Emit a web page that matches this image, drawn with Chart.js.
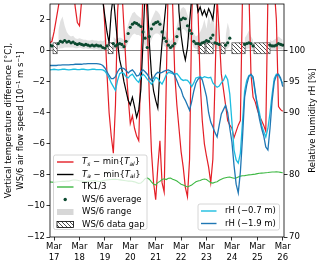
<!DOCTYPE html>
<html><head><meta charset="utf-8">
<script src="https://cdn.jsdelivr.net/npm/chart.js@4"></script>
<style>html,body{margin:0;padding:0;background:#fff}canvas{display:block}</style>
</head><body>
<canvas id="c" width="320" height="261"></canvas>
<script>
// ---- data (2-hourly samples starting at Mar 16 20:00) ----
const startDay = 16.8333;
const stepDay = 1/12;
const dayTicks = [17,18,19,20,21,22,23,24,25,26];
const leftTicks = [-12,-10,-8,-6,-4,-2,0,2];
const rightTicks = [70,80,90,95,100];

const tsMinTal = [0.5,0.6,1.2,2.0,2.8,3.6,5,6,6,5.5,5,4,2.8,1.8,1.6,3.2,5,
 6,7,7,7,6.5,6,5.5,5,
 3.8,1.5,-1.5,-4,-5.5,-6.6,-3.5,2.5,4.5,
 4,1.5,-1,-3,-4.7,-4.2,-5,-5.5,-5.8,
 -1,4,4.5,2,-3,-6.5,-8.5,-9.6,-7.5,-5.8,-8.5,-9.1,
 -2,5,7,3,-1.5,-3.5,-5,-6.5,-7.5,-8.8,-9.4,-7,
 2,6,6,2.5,-2,-4.5,-6,-6.8,-7.5,-8.5,-7,-2,
 3.5,1,-1.5,-2.5,-3.5,-4.5,-4.8,-5,-5.6,-5.2,-4.8,-4.5,
 3.5,6,6,4,-1.5,-3,-3.3,-3.8,-4.2,-4.5,-4.8,-5.2,
 3.5,5,5,4,2,-3.6,-3.8,-3.9];

const taMinTal = [6,6,6,6,6,6,6,6,6,6,6,6,6,6,6,6,6,6,6,6,6,6,6,6,6,
 3.2,2.2,1.2,0.5,2.5,3.5,2,0.5,-0.6,-1.2,-2,-2.6,-3.2,-3.5,-3,-3.6,-4.3,-3.8,-2.5,0.5,4,3.5,0.5,-1.5,-2.6,-3.2,-3.7,-1.2,0.5,1.8,3.2,
 6,6,6,6,6,
 2.5,1,0,-0.6,0.2,1.8,3.4,4,3.5,2.5,2.8,2.3,2.6,2.2,2.7,2.4,2.0,3.2,
 6,6,6,6,6,6,6,6,6,6,6,6,6,6,6,6,6,6,6,6,6,6,6,6,6,6,6,6,6,6,6,6];

const tk13 = [-8.46,-8.47,-8.48,-8.46,-8.44,-8.43,-8.42,-8.42,-8.40,-8.40,-8.36,-8.33,-8.33,-8.35,-8.38,-8.40,-8.42,-8.43,-8.42,-8.40,-8.38,-8.36,-8.40,-8.43,-8.42,
 -8.38,-8.35,-8.33,-8.31,-8.30,-8.29,-8.28,-8.30,-8.32,-8.34,-8.36,-8.38,-8.40,-8.40,-8.42,-8.45,-8.50,-8.55,-8.52,-8.40,-8.25,-8.20,-8.28,-8.45,-8.60,
 -8.65,-8.5,-8.42,-8.30,-8.25,-8.30,-8.22,-8.20,-8.28,-8.33,-8.40,-8.50,-8.60,-8.66,-8.72,-8.78,-8.72,-8.65,-8.55,-8.45,-8.40,-8.36,-8.30,-8.27,-8.30,
 -8.40,-8.50,-8.53,-8.47,-8.44,-8.35,-8.28,-8.22,-8.18,-8.15,-8.14,-8.18,-8.22,-8.20,-8.14,-8.08,-8.06,-8.05,-8.02,-8.00,-7.99,-7.97,-7.95,-7.92,-7.90,
 -7.89,-7.88,-7.86,-7.85,-7.83,-7.82,-7.82,-7.81,-7.82,-7.84,-7.86];

const wsAverage = [0.35,0.3,null,null,0.45,0.6,0.55,0.65,0.55,0.6,0.5,0.55,0.45,0.4,0.45,0.4,0.35,0.4,0.35,0.3,0.35,0.3,0.35,0.3,0.3,0.2,0.15,0.3,
 null,null,
 0.45,0.3,0.4,0.45,0.4,0.25,0.6,1.1,1.5,1.7,1.8,1.75,1.65,1.55,1.2,0.8,0.2,0.9,1.4,1.7,1.8,1.85,1.7,1.2,0.8,0.6,0.35,0.2,0.3,0.45,
 0.9,1.4,2.0,2.1,2.05,1.6,1.3,1.1,0.6,0.45,0.45,0.4,0.5,0.55,0.65,0.6,0.8,1.0,0.5,0.45,0.4,
 null,null,0.35,0.5,0.8,
 null,null,null,null,null,null,
 0.4,0.45,0.5,0.45,0.3,
 null,null,null,null,null,null,null,
 0.35,0.3,0.3,0.35,0.45,0.4,0.35];

const wsHigh = [0.8,0.9,null,null,1.3,1.9,2.2,1.6,1.2,1.0,0.9,0.95,0.8,0.75,0.8,0.75,0.7,0.7,0.65,0.65,0.7,0.65,0.65,0.6,0.65,0.6,0.7,0.8,
 null,null,
 0.9,0.75,0.8,0.85,0.8,0.7,1.2,1.7,2.1,2.4,2.5,2.3,2.2,2.1,1.8,1.4,0.9,1.5,2.0,2.3,2.6,2.5,2.3,1.8,1.4,1.2,0.8,0.6,0.8,1.0,
 1.6,2.2,2.7,2.8,2.7,2.3,1.9,1.7,1.1,0.9,1.0,1.2,1.5,2.0,1.4,2.3,1.7,2.6,1.2,2.1,1.1,
 null,null,0.9,1.8,1.3,
 null,null,null,null,null,null,
 0.8,1.0,1.3,0.9,0.7,
 null,null,null,null,null,null,null,
 0.7,0.6,0.7,0.8,0.9,0.8,0.7];

const wsLow = [0.0,0.0,null,null,0.1,0.15,0.15,0.2,0.2,0.2,0.2,0.2,0.15,0.15,0.2,0.15,0.1,0.15,0.1,0.1,0.1,0.05,0.1,0.05,0.05,0.0,0.0,0.0,
 null,null,
 0.1,0.05,0.1,0.15,0.1,0.0,0.2,0.5,0.8,1.0,1.1,1.0,1.0,0.9,0.6,0.3,0.0,0.3,0.7,1.0,1.1,1.1,1.0,0.6,0.3,0.2,0.05,0.0,0.05,0.1,
 0.4,0.8,1.3,1.4,1.3,1.0,0.7,0.5,0.2,0.1,0.1,0.1,0.15,0.2,0.25,0.2,0.3,0.4,0.15,0.1,0.1,
 null,null,0.05,0.15,0.3,
 null,null,null,null,null,null,
 0.05,0.1,0.15,0.1,0.0,
 null,null,null,null,null,null,null,
 0.05,0.0,0.0,0.05,0.1,0.1,0.05];

const rh07 = [96.9,96.95,97.0,96.95,96.9,96.95,97.0,97.0,96.95,96.9,96.95,97.0,97.0,96.95,96.95,97.0,97.0,96.95,96.9,96.95,97.0,97.0,96.95,96.95,96.95,
 96.9,96.7,96.2,95.6,94.8,94.2,93.6,95.2,96.3,96.5,96.3,95.8,95.6,96.0,96.2,95.7,95.2,94.9,
 95.8,96.2,95.9,95.4,95.0,94.6,95.1,95.7,95.5,95.0,94.6,95.3,96.1,96.5,96.4,96.3,96.2,
 96.3,95.9,95.4,95.2,95.3,95.2,94.8,94.2,94.8,95.6,95.7,95.8,95.6,95.8,95.7,95.6,95.7,
 94.8,94.4,94.1,94.3,94.8,95.2,96.0,95.3,93.0,88.5,84.0,82.4,81.9,83.5,88.5,93.5,95.2,
 96.0,96.1,95.5,93.1,91.5,90.0,88.0,87.0,86.1,87.5,90.0,93.0,95.5,96.2,96.0,95.4,94.7];

const rh19 = [97.6,97.6,97.6,97.6,97.65,97.65,97.7,97.7,97.7,97.7,97.75,97.75,97.8,97.8,97.8,97.8,97.85,97.85,97.9,97.9,97.9,97.9,97.9,97.85,97.8,
 97.6,97.2,96.6,96.0,95.5,95.5,95.8,96.6,97.1,97.2,97.1,96.8,96.4,96.7,96.9,96.5,95.9,96.0,
 96.6,96.9,96.6,96.2,95.6,95.2,95.6,96.2,96.5,96.4,96.5,96.7,96.8,96.9,96.7,96.5,96.0,
 95.2,94.3,93.7,92.6,92.0,91.2,90.4,91.8,93.5,94.8,95.4,95.7,95.3,94.0,92.6,90.0,88.5,
 87.7,86.8,86.1,88.0,89.8,90.5,91.2,90.0,87.5,85.3,81.5,78.5,77.1,80.5,86.0,92.5,94.5,
 95.8,96.2,95.8,93.5,91.0,89.0,87.5,86.3,84.5,84.0,87.5,92.0,95.0,96.0,96.2,95.6,94.2];

// WS/6 data gaps: [start day, end day]
const wsGaps = [[16.96,17.12],[19.13,19.32],[22.67,22.94],[22.98,23.26],[23.57,23.73],[24.0,24.52],[24.87,25.5]];
const gapRange = [-0.2, 0.5];

// ---- rendering ----
const FONT = '"DejaVu Sans"';
const FS = 8.5;
Chart.defaults.font.family = FONT;
Chart.defaults.font.size = FS;
Chart.defaults.color = '#000';

function pts(arr){ return arr.map((v,i)=>({x: startDay + i*stepDay, y: v})); }

const cv = document.getElementById('c');
const ctx0 = cv.getContext('2d');
function makeHatch(){
  const c = document.createElement('canvas'); c.width = 4; c.height = 4;
  const g = c.getContext('2d');
  g.fillStyle = '#fff'; g.fillRect(0,0,4,4);
  g.strokeStyle = '#222'; g.lineWidth = 0.8;
  g.beginPath();
  g.moveTo(0,0); g.lineTo(4,4);
  g.moveTo(-1,3); g.lineTo(1,5);
  g.moveTo(3,-1); g.lineTo(5,1);
  g.stroke();
  return ctx0.createPattern(c,'repeat');
}
const hatch = makeHatch();

const C = {red:'#e41e26', black:'#000', green:'#3db843', cyan:'#1cbde0', blue:'#1f77b4', dot:'#0b4a30', gray:'rgba(200,200,200,0.55)'};

function noPad(s){ s.paddingTop=0; s.paddingBottom=0; s.paddingLeft=0; s.paddingRight=0; }

const gapPlugin = {
  id:'gaps',
  afterDatasetDraw(chart, args){
    if (args.index !== 6) return;
    const ctx = chart.ctx, x = chart.scales.x, y = chart.scales.y;
    ctx.save();
    for (const g of wsGaps){
      const x0 = x.getPixelForValue(g[0]), x1 = x.getPixelForValue(g[1]);
      const y0 = y.getPixelForValue(gapRange[1]), y1 = y.getPixelForValue(gapRange[0]);
      ctx.fillStyle = hatch; ctx.fillRect(x0,y0,x1-x0,y1-y0);
      ctx.strokeStyle = '#444'; ctx.lineWidth = 0.7; ctx.strokeRect(x0,y0,x1-x0,y1-y0);
    }
    ctx.restore();
  }
};

function drawRuns(ctx, x, y, runs){
  let cx = x;
  for (const r of runs){
    const fs = r.sub ? FS*0.7 : FS;
    ctx.font = (r.it?'italic ':'') + fs + 'px ' + FONT;
    const dy = r.sub ? FS*0.28 : 0;
    ctx.fillText(r.t, cx, y+dy);
    cx += ctx.measureText(r.t).width;
  }
}

const decoPlugin = {
  id:'deco',
  afterDatasetsDraw(chart){
    const ctx = chart.ctx, a = chart.chartArea;
    ctx.save();
    ctx.strokeStyle = '#000'; ctx.lineWidth = 0.8;
    ctx.strokeRect(a.left, a.top, a.right-a.left, a.bottom-a.top);
    ctx.restore();
  },
  afterDraw(chart){
    const ctx = chart.ctx, a = chart.chartArea;
    const cy = (a.top + a.bottom)/2;
    ctx.save();
    ctx.fillStyle = '#000'; ctx.textAlign = 'center'; ctx.textBaseline = 'middle';
    ctx.font = FS + 'px ' + FONT;
    ctx.save(); ctx.translate(9, cy); ctx.rotate(-Math.PI/2);
    ctx.fillText('Vertical temperature difference [°C],', 0, 0); ctx.restore();
    ctx.save(); ctx.translate(21, cy); ctx.rotate(-Math.PI/2);
    ctx.fillText('WS/6 air flow speed [10⁻¹ m s⁻¹]', 0, 0); ctx.restore();
    ctx.save(); ctx.translate(313, cy); ctx.rotate(-Math.PI/2);
    ctx.fillText('Relative humidity rH [%]', 0, 0); ctx.restore();

    ctx.textAlign = 'left';
    function box(x0,y0,x1,y1){
      ctx.save();
      ctx.fillStyle = 'rgba(255,255,255,0.8)'; ctx.strokeStyle = '#cccccc'; ctx.lineWidth = 0.8;
      ctx.beginPath(); ctx.roundRect(x0,y0,x1-x0,y1-y0,2); ctx.fill(); ctx.stroke();
      ctx.restore();
    }
    function hline(x0,x1,y,col,w){ ctx.save(); ctx.strokeStyle=col; ctx.lineWidth=w; ctx.beginPath(); ctx.moveTo(x0,y); ctx.lineTo(x1,y); ctx.stroke(); ctx.restore(); }
    box(53.5,155,147,229.5);
    const ys = [162,174.5,187,199.5,212,224.5];
    const hx0 = 57, hx1 = 73.5, tx = 82;
    hline(hx0,hx1,ys[0],C.red,1.4);
    hline(hx0,hx1,ys[1],C.black,1.4);
    hline(hx0,hx1,ys[2],C.green,1.4);
    ctx.fillStyle = C.dot; ctx.beginPath(); ctx.arc(65.2, ys[3], 1.7, 0, Math.PI*2); ctx.fill();
    ctx.fillStyle = 'rgba(205,205,205,0.8)'; ctx.fillRect(hx0, ys[4]-3, hx1-hx0, 6);
    ctx.fillStyle = hatch; ctx.fillRect(hx0, ys[5]-3, hx1-hx0, 6);
    ctx.strokeStyle = '#000'; ctx.lineWidth = 0.8; ctx.strokeRect(hx0, ys[5]-3, hx1-hx0, 6);
    ctx.fillStyle = '#000';
    drawRuns(ctx, tx, ys[0], [{t:'T',it:1},{t:'s',it:1,sub:1},{t:' − min{'},{t:'T',it:1},{t:'al',it:1,sub:1},{t:'}'}]);
    drawRuns(ctx, tx, ys[1], [{t:'T',it:1},{t:'a',it:1,sub:1},{t:' − min{'},{t:'T',it:1},{t:'al',it:1,sub:1},{t:'}'}]);
    drawRuns(ctx, tx, ys[2], [{t:'TK1/3'}]);
    drawRuns(ctx, tx, ys[3], [{t:'WS/6 average'}]);
    drawRuns(ctx, tx, ys[4], [{t:'WS/6 range'}]);
    drawRuns(ctx, tx, ys[5], [{t:'WS/6 data gap'}]);

    box(198,204,279.5,230);
    hline(201,216.5,211,C.cyan,1.4);
    hline(201,216.5,223.5,C.blue,1.4);
    ctx.fillStyle = '#000';
    drawRuns(ctx, 225, 211, [{t:'rH (−0.7 m)'}]);
    drawRuns(ctx, 225, 223.5, [{t:'rH (−1.9 m)'}]);
    ctx.restore();
  }
};

new Chart(cv, {
  type:'line',
  data:{ datasets:[
    {data:pts(rh19), yAxisID:'rh', borderColor:C.blue, borderWidth:1.3, pointRadius:0, tension:0},
    {data:pts(rh07), yAxisID:'rh', borderColor:C.cyan, borderWidth:1.3, pointRadius:0, tension:0},
    {data:pts(wsAverage), yAxisID:'y', showLine:false, pointRadius:1.6, pointBackgroundColor:C.dot, pointBorderWidth:0, borderColor:C.dot},
    {data:pts(tk13), yAxisID:'y', borderColor:C.green, borderWidth:1.1, pointRadius:0},
    {data:pts(taMinTal), yAxisID:'y', borderColor:C.black, borderWidth:1.2, pointRadius:0},
    {data:pts(tsMinTal), yAxisID:'y', borderColor:C.red, borderWidth:1.2, pointRadius:0},
    {data:pts(wsHigh), yAxisID:'y', borderWidth:0, borderColor:'rgba(0,0,0,0)', pointRadius:0, fill:'+1', backgroundColor:C.gray, spanGaps:false},
    {data:pts(wsLow), yAxisID:'y', borderWidth:0, borderColor:'rgba(0,0,0,0)', pointRadius:0, spanGaps:false}
  ]},
  options:{
    responsive:false, animation:false, devicePixelRatio:1,
    layout:{padding:{top:3,left:0,right:0,bottom:0}},
    plugins:{legend:{display:false}, tooltip:{enabled:false}},
    elements:{line:{tension:0}},
    scales:{
      x:{type:'linear', min:16.84, max:26.05, position:'bottom',
        afterBuildTicks(s){ s.ticks = dayTicks.map(v=>({value:v})); },
        afterFit(s){ s.height = 24; noPad(s); },
        border:{display:false},
        grid:{drawOnChartArea:false, drawTicks:true, tickLength:3.5, tickColor:'#000', tickWidth:0.8},
        ticks:{padding:1.5, maxRotation:0, autoSkip:false, color:'#000', font:{size:FS}, callback:(v)=>['Mar', String(v)]}
      },
      y:{type:'linear', min:-12, max:3, position:'left',
        afterBuildTicks(s){ s.ticks = leftTicks.map(v=>({value:v})); },
        afterFit(s){ s.width = 50; noPad(s); },
        border:{display:false},
        grid:{drawOnChartArea:true, color:(c)=> (c.tick && c.tick.value===0) ? '#888' : 'rgba(0,0,0,0)', lineWidth:1, drawTicks:true, tickLength:3.5, tickColor:'#000', tickWidth:0.8},
        ticks:{padding:1.5, color:'#000', font:{size:FS}, callback:(v)=> (v<0 ? '−'+Math.abs(v) : String(v))}
      },
      rh:{type:'linear', min:70, max:107.5, position:'right',
        afterBuildTicks(s){ s.ticks = rightTicks.map(v=>({value:v})); },
        afterFit(s){ s.width = 36; noPad(s); },
        border:{display:false},
        grid:{drawOnChartArea:false, drawTicks:true, tickLength:3.5, tickColor:'#000', tickWidth:0.8},
        ticks:{padding:1.5, color:'#000', font:{size:FS}, callback:(v)=>String(v)}
      }
    }
  },
  plugins:[gapPlugin, decoPlugin]
});
</script>
</body></html>
